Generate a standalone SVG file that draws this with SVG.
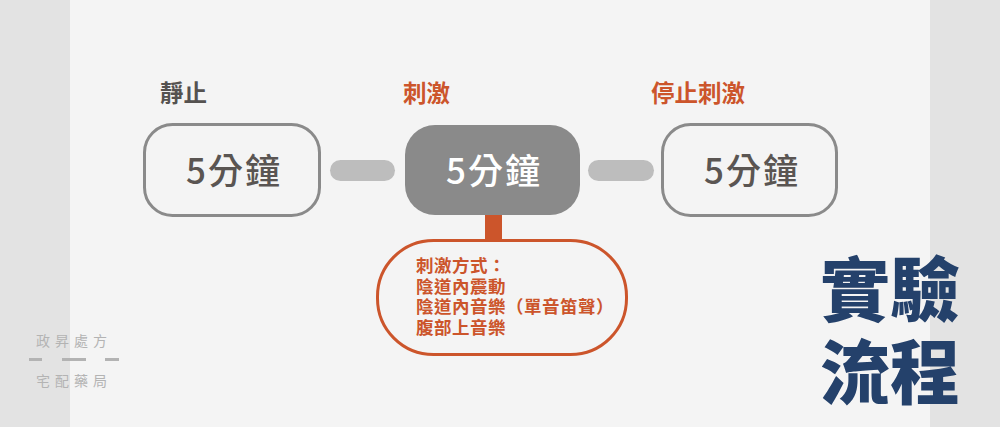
<svg xmlns="http://www.w3.org/2000/svg" width="1000" height="427" viewBox="0 0 1000 427">
<style>
.cjk{font-family:"Noto Sans CJK TC","Noto Sans CJK SC",sans-serif}
.lbl{font-size:23.5px;font-weight:700}
.dur{font-size:35px;font-weight:500;letter-spacing:2px;text-anchor:middle;dominant-baseline:central}
.node{fill:none;stroke:#8a8a8a;stroke-width:3}
.bar{fill:#bdbdbd}
.or{fill:#cc552b}
.wm{font-size:14px;fill:#b3b3b3;letter-spacing:5px}
</style>
<rect x="0" y="0" width="1000" height="427" fill="#e3e3e3"/>
<rect x="70" y="0" width="860" height="427" fill="#f4f4f4"/>

<g id="connectors">
<rect class="bar" x="330" y="160" width="65" height="21" rx="10.5"/>
<rect class="bar" x="588" y="160" width="66" height="21" rx="10.5"/>
<rect class="or" x="485" y="214" width="17" height="27"/>
</g>

<g id="label-rest"><text class="cjk lbl" x="160" y="102" fill="#555250">靜止</text></g>
<g id="label-stim"><text class="cjk lbl or" x="403" y="102">刺激</text></g>
<g id="label-stop"><text class="cjk lbl or" x="651" y="102">停止刺激</text></g>

<g id="node-rest">
<rect class="node" x="144.5" y="124.5" width="175" height="91" rx="28"/>
<text class="cjk dur" x="234" y="168" fill="#5a5552">5分鐘</text>
</g>
<g id="node-stim">
<rect x="405" y="125" width="175" height="90" rx="30" fill="#8a8a8a"/>
<text class="cjk dur" x="494" y="168" fill="#ffffff">5分鐘</text>
</g>
<g id="node-stop">
<rect class="node" x="662.5" y="124.5" width="174" height="91" rx="28"/>
<text class="cjk dur" x="752" y="168" fill="#5a5552">5分鐘</text>
</g>

<g id="node-method">
<rect x="377.5" y="240.5" width="249" height="114" rx="56" fill="none" stroke="#cc552b" stroke-width="3"/>
<text class="cjk or" font-size="17.5" font-weight="700" letter-spacing="0.5">
<tspan x="416" y="272">刺激方式：</tspan>
<tspan x="416" y="292.5">陰道內震動</tspan>
<tspan x="416" y="313">陰道內音樂（單音笛聲）</tspan>
<tspan x="416" y="333.5">腹部上音樂</tspan>
</text>
</g>

<g id="title">
<text class="cjk" font-size="70" font-weight="900" fill="#24416b" x="820" y="316">實驗</text>
<text class="cjk" font-size="70" font-weight="900" fill="#24416b" x="820" y="399">流程</text>
</g>

<g id="watermark">
<text class="cjk wm" x="36" y="346">政昇處方</text>
<rect x="29" y="358" width="13" height="3" fill="#b3b3b3"/>
<rect x="62" y="358" width="24" height="3" fill="#b3b3b3"/>
<rect x="105" y="358" width="14" height="3" fill="#b3b3b3"/>
<text class="cjk wm" x="36" y="386">宅配藥局</text>
</g>
</svg>
